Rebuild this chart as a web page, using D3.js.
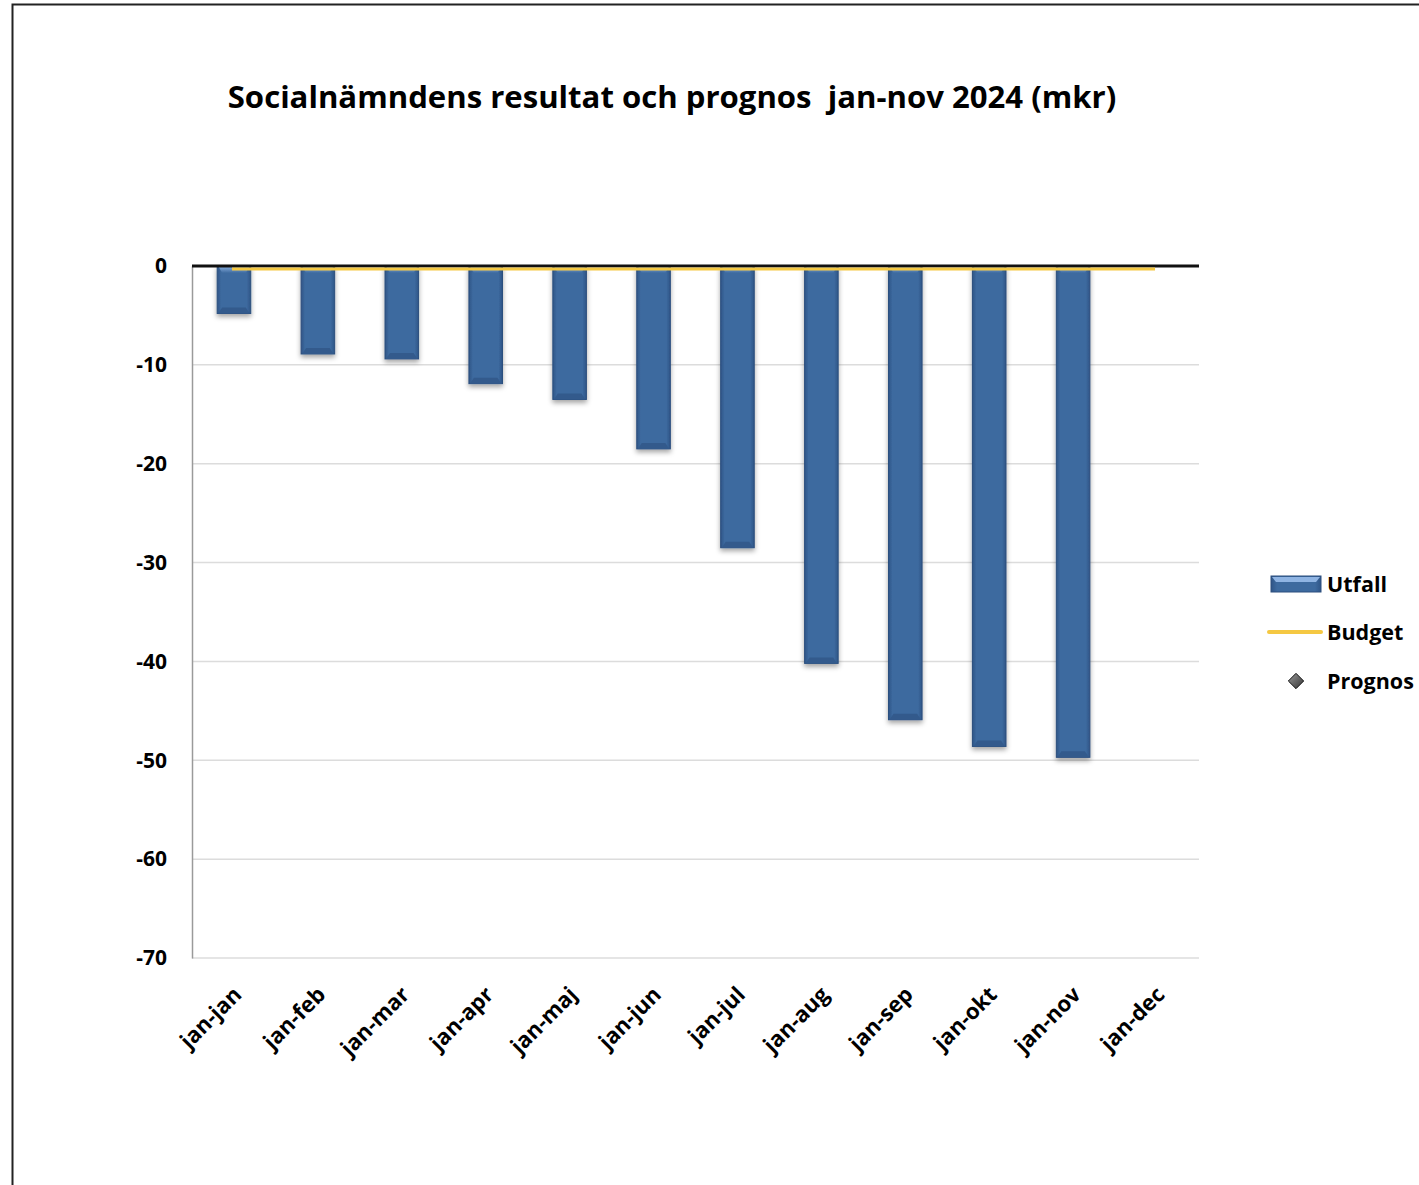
<!DOCTYPE html>
<html><head><meta charset="utf-8">
<script src="https://cdn.jsdelivr.net/npm/d3@7"></script>
<style>body{margin:0;background:#fff}svg{display:block}text{font-family:"Open Sans",Lato,sans-serif;font-weight:bold;fill:#000}</style>
</head><body>
<script>
const categories = ["jan-jan","jan-feb","jan-mar","jan-apr","jan-maj","jan-jun","jan-jul","jan-aug","jan-sep","jan-okt","jan-nov","jan-dec"];
const utfall = [-4.8,-8.9,-9.4,-11.9,-13.5,-18.5,-28.5,-40.2,-45.9,-48.6,-49.7,null];
const budget = [-0.2,-0.2,-0.2,-0.2,-0.2,-0.2,-0.2,-0.2,-0.2,-0.2,-0.2,-0.2];
const yTicks = [0,-10,-20,-30,-40,-50,-60,-70];
const title = "Socialnämndens resultat och prognos  jan-nov 2024 (mkr)";

const W=1419,H=1185;
const svg=d3.select("body").append("svg").attr("width",W).attr("height",H);
const defs=svg.append("defs");
const g1=defs.append("linearGradient").attr("id","barg").attr("x1",0).attr("x2",1).attr("y1",0).attr("y2",0);
g1.append("stop").attr("offset","0%").attr("stop-color","#2f5587");
g1.append("stop").attr("offset","12%").attr("stop-color","#3d6a9f");
g1.append("stop").attr("offset","88%").attr("stop-color","#3d6a9f");
g1.append("stop").attr("offset","100%").attr("stop-color","#2f5587");
const f=defs.append("filter").attr("id","sh").attr("x","-30%").attr("y","-10%").attr("width","160%").attr("height","130%");
f.append("feDropShadow").attr("dx",0).attr("dy",3).attr("stdDeviation",2.5).attr("flood-color","#000").attr("flood-opacity",0.35);
const g2=defs.append("linearGradient").attr("id","topg").attr("x1",0).attr("x2",0).attr("y1",0).attr("y2",1);
g2.append("stop").attr("offset","0%").attr("stop-color","#8fb4e3");
g2.append("stop").attr("offset","100%").attr("stop-color","#3d6a9f");
const g3=defs.append("linearGradient").attr("id","dg").attr("x1",0).attr("x2",1).attr("y1",0).attr("y2",1);
g3.append("stop").attr("offset","0%").attr("stop-color","#9a9a9a");
g3.append("stop").attr("offset","100%").attr("stop-color","#333");

// frame
svg.append("rect").attr("x",12.5).attr("y",4.5).attr("width",1440).attr("height",1200).attr("fill","none").attr("stroke","#222").attr("stroke-width",2);

const t=svg.append("text").attr("x",672).attr("y",108).attr("text-anchor","middle").attr("font-size",28).style("white-space","pre").text(title);
const tw=t.node().getComputedTextLength();
t.attr("font-size",28*889/tw);

const x=d3.scaleBand().domain(categories).range([192,1199]).paddingInner(0.6).paddingOuter(0.3);
const y=d3.scaleLinear().domain([-70,0]).range([958,266]);

// gridlines
svg.append("g").selectAll("line").data(yTicks.filter(d=>d!==0)).join("line")
 .attr("x1",192).attr("x2",1199).attr("y1",d=>y(d)).attr("y2",d=>y(d)).attr("stroke","#dcdcdc").attr("stroke-width",1.5);

// y axis
const ya=svg.append("g").attr("transform","translate(192,0)").call(d3.axisLeft(y).tickValues(yTicks).tickSize(0).tickPadding(25).tickFormat(d=>String(d)));
ya.select(".domain").attr("stroke","#9a9a9a").attr("stroke-width",1.5);
ya.selectAll("text").attr("font-size",21).style("font-family","'Open Sans',Lato,sans-serif").style("font-weight","bold").attr("fill","#000");

// bars
const bars=svg.append("g");
const bd=categories.map((c,i)=>({c,v:utfall[i]})).filter(d=>d.v!=null);
bars.selectAll("rect.b").data(bd).join("rect").attr("class","b")
 .attr("x",d=>x(d.c)).attr("width",x.bandwidth()).attr("y",y(0)).attr("height",d=>y(d.v)-y(0))
 .attr("fill","url(#barg)").attr("stroke","#2c4f7e").attr("stroke-width",1).attr("filter","url(#sh)");
bars.selectAll("path.t").data(bd).join("path").attr("class","t")
 .attr("d",d=>{const x0=x(d.c),w=x.bandwidth(),y0=y(0);return `M${x0+1},${y0}L${x0+w-1},${y0}L${x0+w-5},${y0+7}L${x0+5},${y0+7}Z`;})
 .attr("fill","url(#topg)");
bars.selectAll("path.bo").data(bd).join("path").attr("class","bo")
 .attr("d",d=>{const x0=x(d.c),w=x.bandwidth(),y1=y(d.v);return `M${x0+1},${y1}L${x0+w-1},${y1}L${x0+w-5},${y1-6}L${x0+5},${y1-6}Z`;})
 .attr("fill","#335a8c");

// zero line
svg.append("line").attr("x1",192).attr("x2",1199).attr("y1",y(0)).attr("y2",y(0)).attr("stroke","#111").attr("stroke-width",3);

// budget line
const line=d3.line().x((d,i)=>x(categories[i])+x.bandwidth()/2-2).y(d=>y(d)+1);
svg.append("path").datum(budget).attr("d",line).attr("fill","none").attr("stroke","#f5c842").attr("stroke-width",3);

// x labels
svg.append("g").selectAll("text").data(categories).join("text")
 .attr("transform",d=>`translate(${x(d)+x.bandwidth()/2+9},${996}) rotate(-45)`)
 .attr("text-anchor","end").attr("font-size",22).text(d=>d);

// legend
const lg=svg.append("g");
lg.append("rect").attr("x",1271).attr("y",576).attr("width",50).attr("height",16).attr("fill","url(#barg)").attr("stroke","#2c4f7e");
lg.append("path").attr("d","M1272,577L1320,577L1316,582L1276,582Z").attr("fill","#8fb4e3");
lg.append("text").attr("x",1327).attr("y",592).attr("font-size",21.5).text("Utfall");
lg.append("line").attr("x1",1269).attr("x2",1321).attr("y1",632).attr("y2",632).attr("stroke","#f5c842").attr("stroke-width",4).attr("stroke-linecap","round");
lg.append("text").attr("x",1327).attr("y",640).attr("font-size",21.5).text("Budget");
lg.append("path").attr("d",d3.symbol(d3.symbolDiamond2,150)()).attr("transform","translate(1296,681)").attr("fill","url(#dg)").attr("stroke","#111");
lg.append("text").attr("x",1327).attr("y",689).attr("font-size",21.5).text("Prognos");
</script>
</body></html>
